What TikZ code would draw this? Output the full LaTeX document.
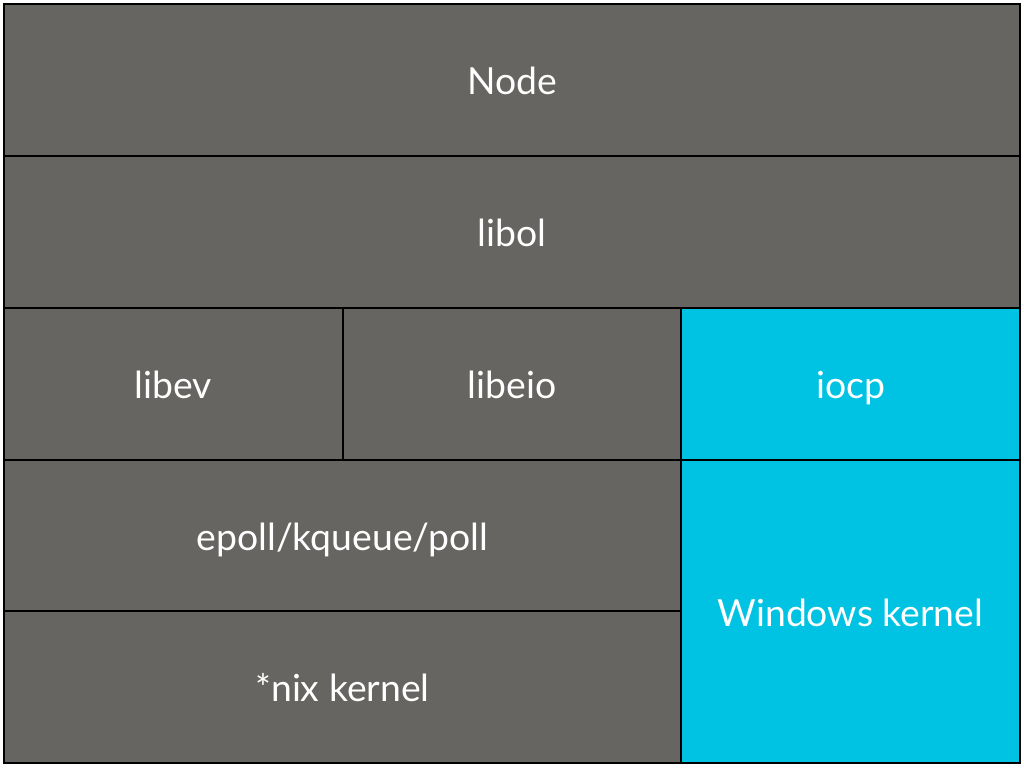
\documentclass[tikz,border=0pt]{standalone}
\usepackage{fontspec}
\setmainfont{Lato}
\definecolor{cellgray}{HTML}{676562}
\definecolor{cellcyan}{HTML}{00C3E3}
\begin{document}
\begin{tikzpicture}[x=0.75pt,y=-0.75pt,
  cell/.style={draw=black,line width=1.5pt,inner sep=0pt,outer sep=0pt,
    text=white,font=\fontsize{28}{32}\selectfont,anchor=north west,
    text height=22pt,text depth=0pt},
  gray cell/.style={cell,fill=cellgray},
  cyan cell/.style={cell,fill=cellcyan}]
\useasboundingbox[fill=white] (0,0) rectangle (1024,768);
\node[gray cell,minimum width=762pt,minimum height=114pt] (node) at (4,4) {Node};
\node[gray cell,minimum width=762pt,minimum height=114pt] (libol) at (4,156) {libol};
\node[gray cell,minimum width=254.25pt,minimum height=114pt] (libev) at (4,308) {libev};
\node[gray cell,minimum width=253.5pt,minimum height=114pt] (libeio) at (343,308) {libeio};
\node[cyan cell,minimum width=254.25pt,minimum height=114pt] (iocp) at (681,308) {iocp};
\node[gray cell,minimum width=507.75pt,minimum height=113.25pt] (epoll) at (4,460) {epoll/kqueue/poll};
\node[gray cell,minimum width=507.75pt,minimum height=114pt] (nix) at (4,611) {*nix kernel};
\node[cyan cell,minimum width=254.25pt,minimum height=227.25pt] (win) at (681,460) {Windows kernel};
\end{tikzpicture}
\end{document}
